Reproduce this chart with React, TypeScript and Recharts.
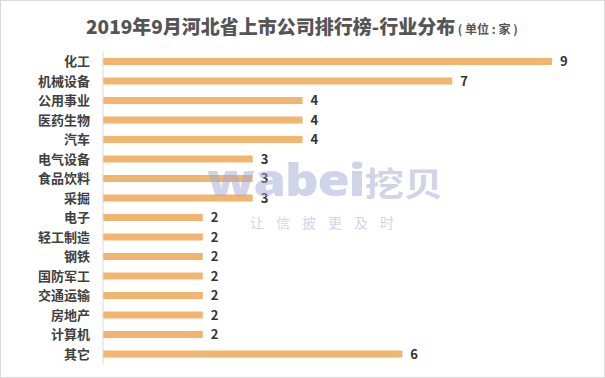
import { Bar, BarChart, LabelList, XAxis, YAxis } from "recharts"

const industries = [
  "化工", "机械设备", "公用事业", "医药生物", "汽车", "电气设备", "食品饮料", "采掘",
  "电子", "轻工制造", "钢铁", "国防军工", "交通运输", "房地产", "计算机", "其它",
]
const companyCounts = [9, 7, 4, 4, 4, 3, 3, 3, 2, 2, 2, 2, 2, 2, 2, 6]

const data = industries.map((name, i) => ({ name, value: companyCounts[i] }))

const FONT = '"Noto Sans CJK SC", "Noto Sans", sans-serif'
const WM = "rgba(160,170,210,0.5)"

export default function App() {
  return (
    <div
      style={{
        position: "absolute",
        left: 0,
        top: 0,
        width: 605,
        height: 378,
        boxSizing: "border-box",
        border: "1px solid #d9d9d9",
        background: "#fff",
        fontFamily: FONT,
        overflow: "hidden",
      }}
    >
      <div
        style={{
          position: "absolute",
          top: 10,
          left: 85,
          color: "#555",
          whiteSpace: "nowrap",
          lineHeight: "30px",
        }}
      >
        <span style={{ fontSize: 19, fontWeight: 900 }}>2019年9月河北省上市公司排行榜-行业分布</span>
        <span style={{ fontSize: 12, fontWeight: 700, whiteSpace: "pre" }}> ( 单位 : 家 )</span>
      </div>
      <div style={{ position: "absolute", left: -1, top: -1 }}>
        <BarChart
          width={605}
          height={378}
          data={data}
          layout="vertical"
          margin={{ top: 52, right: 53, bottom: 14, left: 0 }}
        >
          <XAxis type="number" domain={[0, 9]} hide />
          <YAxis
            type="category"
            dataKey="name"
            width={103}
            axisLine={{ stroke: "#d9d9d9" }}
            tickLine={false}
            tickMargin={7}
            interval={0}
            tick={{ fill: "#404040", fontSize: 13, fontWeight: 700, fontFamily: FONT }}
          />
          <Bar dataKey="value" fill="#f2b56f" barSize={7} isAnimationActive={false}>
            <LabelList
              dataKey="value"
              position="right"
              offset={8}
              fill="#333"
              fontSize={13}
              fontWeight={700}
              fontFamily={FONT}
            />
          </Bar>
        </BarChart>
      </div>
      {/* watermark */}
      <div
        style={{
          position: "absolute",
          left: 206,
          top: 150,
          color: WM,
          whiteSpace: "nowrap",
          lineHeight: "56px",
          transform: "scaleX(1.19)",
          transformOrigin: "left top",
        }}
      >
        <span style={{ fontFamily: '"Open Sans", sans-serif', fontSize: 44, fontWeight: 800, letterSpacing: -1 }}>
          wabei
        </span>
        <span style={{ fontFamily: FONT, fontSize: 33, fontWeight: 700 }}>挖贝</span>
      </div>
      <div
        style={{
          position: "absolute",
          left: 249,
          top: 212,
          color: WM,
          fontSize: 14,
          letterSpacing: 12,
          whiteSpace: "nowrap",
          lineHeight: "18px",
        }}
      >
        让信披更及时
      </div>
    </div>
  )
}
